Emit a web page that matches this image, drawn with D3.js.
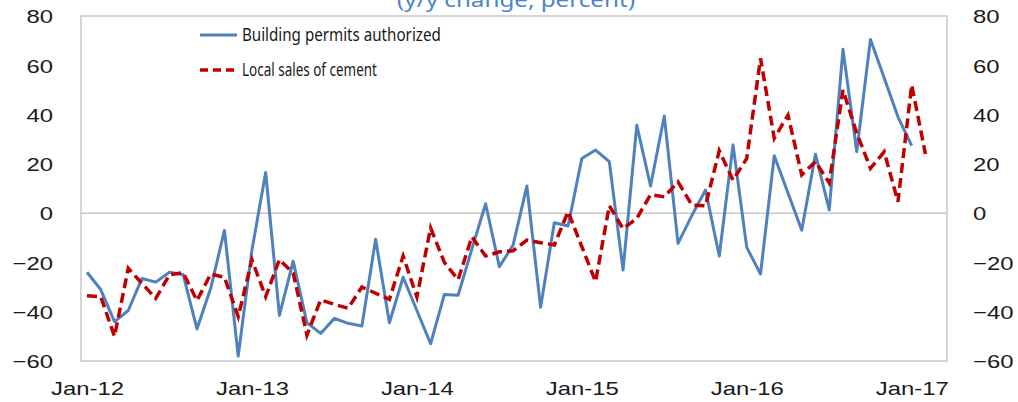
<!DOCTYPE html>
<html>
<meta charset="utf-8">
<head>
<script src="https://cdnjs.cloudflare.com/ajax/libs/d3/7.8.5/d3.min.js"></script>
</head>
<style>
body { margin: 0; background: #fff; }
svg { font-family: "Noto Sans", "Open Sans", sans-serif; }
.axis .domain, .axis .tick line { display: none; }
.axis .tick text { font-size: 19px; fill: #1a1a1a; }
.legend text { font-size: 17.5px; fill: #1a1a1a; }
</style>
<body>
<svg id="canvas"></svg>
<script>
// month index 0 = Jan-12
const xLabels = ["Jan-12", "Jan-13", "Jan-14", "Jan-15", "Jan-16", "Jan-17"];
const yTicks = [-60, -40, -20, 0, 20, 40, 60, 80];

// y/y change, percent
const permits = [-24, -31, -44, -39.5, -26.5, -28, -24, -25, -47, -30.5,
  -7, -58, -15, 16.5, -41.5, -19.5, -44.5, -48.8, -42.7, -44.7,
  -45.8, -10.6, -44.5, -26, -39.5, -53, -33, -33.3, -14.6, 3.8,
  -21.7, -13, 11, -38.2, -3.9, -5.2, 22.2, 25.6, 20.9, -23.1,
  35.7, 11, 39.4, -12.3, -1, 9.4, -17.4, 27.7, -13.9, -24.7,
  23.3, 8.2, -6.9, 23.9, 1.3, 66.5, 25, 70.5, 54.8, 39.1,
  27.4];
const cement = [-33.5, -33.9, -50, -22.4, -28.5, -34.6, -25, -24.2, -35.5, -24.7,
  -26, -42, -19, -33.9, -18.8, -24.3, -49.5, -35.2, -37, -38.6,
  -30, -32.5, -35, -17.4, -34, -6, -20, -27, -9.6, -17.4,
  -15.7, -15.3, -10.9, -12, -12.9, 0.6, -13.6, -27.8, 3, -6.3,
  -2.1, 7.5, 6.6, 12.7, 3.3, 3, 25.3, 13.4, 22.2, 62.8,
  30.4, 39.8, 15.5, 20.9, 12.3, 50, 32.5, 18.2, 24.9, 4.6,
  52, 24];
const seriesNames = ["Building permits authorized", "Local sales of cement"];
const title = "(y/y change, percent)";

const W = 1018, H = 402;
const plot = {left: 81, right: 947, top: 16, bottom: 361};

const svg = d3.select("#canvas").attr("width", W).attr("height", H);

const x = d3.scaleLinear().domain([0, 60]).range([87, 911.7]);
const y = d3.scaleLinear().domain([-60, 80]).range([plot.bottom, plot.top]);

// the reference text is drawn wider than the font; squeeze/stretch to a width
function fitWidth(sel, target) {
  const w = sel.node().getComputedTextLength();
  return target / w;
}

// plot frame
svg.append("rect")
  .attr("x", plot.left).attr("y", plot.top)
  .attr("width", plot.right - plot.left).attr("height", plot.bottom - plot.top)
  .attr("fill", "none").attr("stroke", "#c8c8c8").attr("stroke-width", 1.5);

// zero line
svg.append("line")
  .attr("x1", plot.left).attr("x2", plot.right)
  .attr("y1", y(0)).attr("y2", y(0))
  .attr("stroke", "#c8c8c8").attr("stroke-width", 1.5);

// axes
const gb = svg.append("g").attr("class", "axis")
  .attr("transform", `translate(0,${plot.bottom})`)
  .call(d3.axisBottom(x).tickValues(d3.range(0, 61, 12)).tickSize(0)
    .tickFormat((d, i) => xLabels[i]));
const sx = fitWidth(gb.select(".tick text"), 73);
gb.selectAll(".tick text")
  .attr("y", 34).attr("dy", 0)
  .attr("transform", `scale(${sx},1)`);

const gl = svg.append("g").attr("class", "axis")
  .attr("transform", `translate(${plot.left},0)`)
  .call(d3.axisLeft(y).tickValues(yTicks).tickSize(0));
gl.selectAll(".tick text")
  .attr("x", -28 / sx).attr("dy", "0.36em")
  .attr("transform", `scale(${sx},1)`);

const gr = svg.append("g").attr("class", "axis")
  .attr("transform", `translate(${plot.right},0)`)
  .call(d3.axisRight(y).tickValues(yTicks).tickSize(0));
gr.selectAll(".tick text")
  .attr("x", 26 / sx).attr("dy", "0.36em")
  .attr("transform", `scale(${sx},1)`);

// lines
const line = d3.line().x((d, i) => x(i)).y(d => y(d));

svg.append("path").datum(permits)
  .attr("d", line)
  .attr("fill", "none").attr("stroke", "#4f81bd").attr("stroke-width", 3)
  .attr("stroke-linejoin", "round");

svg.append("path").datum(cement)
  .attr("d", line)
  .attr("fill", "none").attr("stroke", "#c00000").attr("stroke-width", 3.5)
  .attr("stroke-dasharray", "10,5");

// legend
const legend = svg.append("g").attr("class", "legend");
const legendRows = [
  {name: seriesNames[0], color: "#4f81bd", dash: null, w: 3, y: 35, tw: 199},
  {name: seriesNames[1], color: "#c00000", dash: "8,5", w: 3.5, y: 70, tw: 135}
];
legendRows.forEach(r => {
  legend.append("line")
    .attr("x1", 200).attr("x2", 237).attr("y1", r.y).attr("y2", r.y)
    .attr("stroke", r.color).attr("stroke-width", r.w)
    .attr("stroke-dasharray", r.dash);
  const t = legend.append("text")
    .attr("y", r.y).attr("dy", "0.36em")
    .text(r.name);
  const k = fitWidth(t, r.tw);
  t.attr("x", 242 / k).attr("transform", `scale(${k},1)`);
});

// title, clipped at the top edge like the reference
const tt = svg.append("text")
  .attr("y", 7)
  .attr("text-anchor", "middle")
  .style("font-size", "20px").style("fill", "#4a86c8")
  .text(title);
const kt = fitWidth(tt, 238);
tt.attr("x", 516 / kt).attr("transform", `scale(${kt},1)`);
</script>
</body>
</html>
